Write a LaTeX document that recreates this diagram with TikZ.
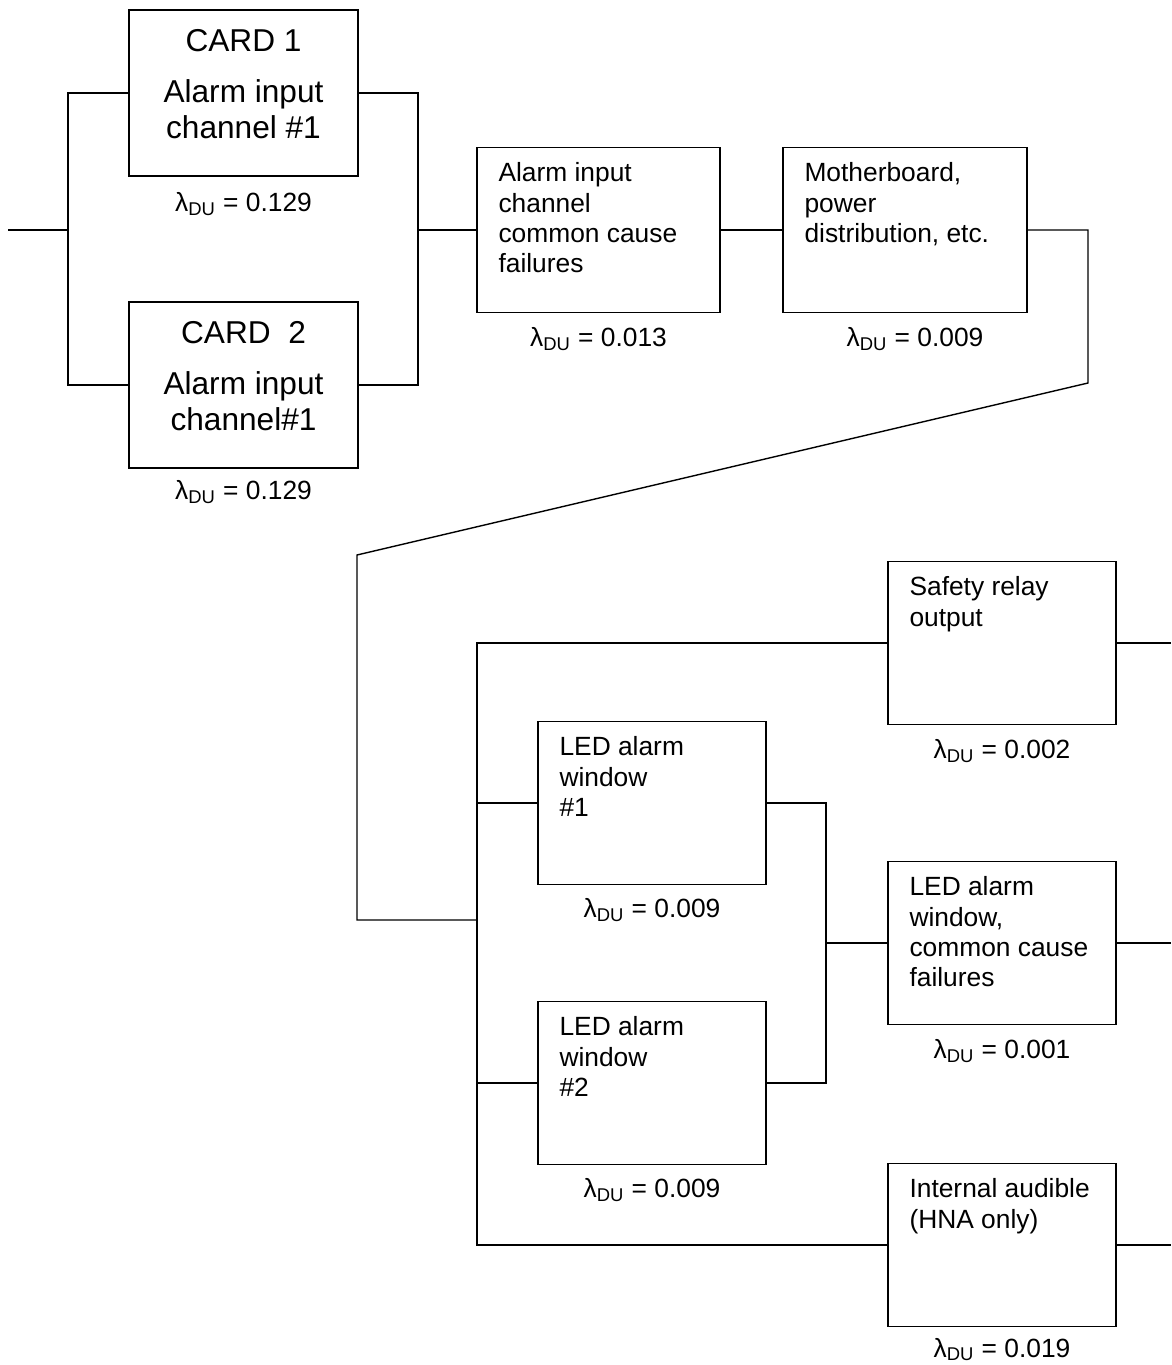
\documentclass[tikz,border=0pt]{standalone}
\usepackage{fontspec}
\setmainfont{Liberation Sans}
\usepackage{tikz}
\usetikzlibrary{positioning}

\begin{document}
\begin{tikzpicture}[x=0.02cm,y=-0.02cm,line width=0.8pt,
    blk/.style={draw,line width=0.8pt,inner sep=0pt,minimum width=4.56cm,minimum height=3.26cm},
    cardtxt/.style={align=center,inner sep=0pt,anchor=north,font=\fontsize{18}{20.4}\selectfont},
    blktxt/.style={align=left,inner sep=0pt,anchor=north west,font=\fontsize{15}{17.3}\selectfont},
    lam/.style={inner sep=0pt,font=\fontsize{15}{17}\selectfont}]
    \useasboundingbox (0,0) rectangle (1171,1365);

    \node[blk,minimum width=4.58cm,minimum height=3.32cm] (card1) at (243.5,93) {};
    \node[blk,minimum width=4.58cm,minimum height=3.32cm] (card2) at (243.5,385) {};
    \node[blk,minimum width=4.86cm,minimum height=3.3cm] (ccf) at (598.5,230) {};
    \node[blk,minimum width=4.88cm,minimum height=3.3cm] (mobo) at (905,230) {};
    \node[blk] (relay) at (1002,643) {};
    \node[blk] (led1) at (652,803) {};
    \node[blk] (led2) at (652,1083) {};
    \node[blk] (ledccf) at (1002,943) {};
    \node[blk] (audible) at (1002,1245) {};

    \node[cardtxt] (card1txt) at ([yshift=-0.38cm]card1.north) {CARD 1\\[9pt]Alarm input\\channel \#1};
    \node[cardtxt] (card2txt) at ([yshift=-0.38cm]card2.north) {CARD\ \ 2\\[9pt]Alarm input\\channel\#1};
    \node[blktxt] (ccftxt) at ([xshift=0.43cm,yshift=-0.3cm]ccf.north west) {Alarm input\\channel\\common cause\\failures};
    \node[blktxt] (mobotxt) at ([xshift=0.43cm,yshift=-0.3cm]mobo.north west) {Motherboard,\\power\\distribution, etc.};
    \node[blktxt] (relaytxt) at ([xshift=0.43cm,yshift=-0.3cm]relay.north west) {Safety relay\\output};
    \node[blktxt] (led1txt) at ([xshift=0.43cm,yshift=-0.3cm]led1.north west) {LED alarm\\window\\\#1};
    \node[blktxt] (led2txt) at ([xshift=0.43cm,yshift=-0.3cm]led2.north west) {LED alarm\\window\\\#2};
    \node[blktxt] (ledccftxt) at ([xshift=0.43cm,yshift=-0.3cm]ledccf.north west) {LED alarm\\window,\\common cause\\failures};
    \node[blktxt] (audibletxt) at ([xshift=0.43cm,yshift=-0.3cm]audible.north west) {Internal audible\\(HNA only)};

    \node[lam,below=0.3cm of card1] (lcard1) {λ\textsubscript{DU} = 0.129};
    \node[lam,below=0.22cm of card2] (lcard2) {λ\textsubscript{DU} = 0.129};
    \node[lam,below=0.28cm of ccf] (lccf) {λ\textsubscript{DU} = 0.013};
    \node[lam,below=0.28cm of mobo,xshift=0.2cm] (lmobo) {λ\textsubscript{DU} = 0.009};
    \node[lam,below=0.28cm of relay] (lrelay) {λ\textsubscript{DU} = 0.002};
    \node[lam,below=0.26cm of led1] (lled1) {λ\textsubscript{DU} = 0.009};
    \node[lam,below=0.26cm of led2] (lled2) {λ\textsubscript{DU} = 0.009};
    \node[lam,below=0.28cm of ledccf] (lledccf) {λ\textsubscript{DU} = 0.001};
    \node[lam,below=0.2cm of audible] (laudible) {λ\textsubscript{DU} = 0.019};

    \coordinate (in) at (8,230);
    \coordinate (splitL) at (68,230);
    \coordinate (joinR) at (418,230);
    \coordinate (bendA) at (1088,383);
    \coordinate (bendB) at (357,555);
    \coordinate (feed) at (477,920);
    \coordinate (joinLED) at (826,943);
    \coordinate (edge) at (1171,0);

    \draw (in) -- (splitL);
    \draw (card1.west) -| (splitL) |- (card2.west);
    \draw (card1.east) -| (joinR) |- (card2.east);
    \draw (joinR) -- (ccf.west);
    \draw (ccf) -- (mobo);
    \draw (mobo.east) -| (bendA) -- (bendB) |- (feed);
    \draw (relay.west) -| (feed) |- (audible.west);
    \draw (led1.west) -- (led1.west -| feed);
    \draw (led2.west) -- (led2.west -| feed);
    \draw (led1.east) -| (joinLED) |- (led2.east);
    \draw (joinLED) -- (ledccf.west);
    \draw (relay.east) -- (relay.east -| edge);
    \draw (ledccf.east) -- (ledccf.east -| edge);
    \draw (audible.east) -- (audible.east -| edge);
  \end{tikzpicture}
\end{document}
